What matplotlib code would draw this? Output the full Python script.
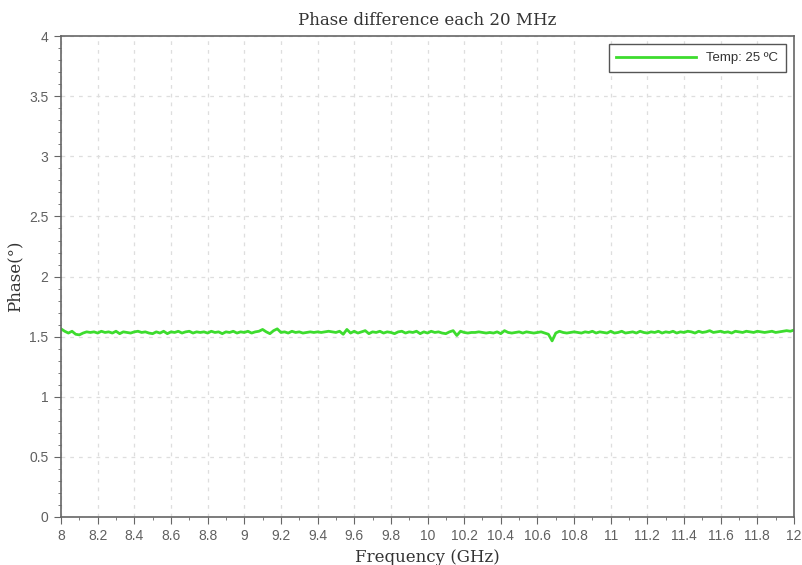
import numpy as np
import matplotlib.pyplot as plt

# frequency grid: 8 to 12 GHz, 20 MHz step
freq_start = 8.0
freq_step = 0.02

phase = [
    1.565, 1.545, 1.53, 1.545, 1.52, 1.515, 1.53, 1.54, 1.535, 1.54,
    1.53, 1.545, 1.535, 1.54, 1.53, 1.545, 1.525, 1.54, 1.535, 1.53,
    1.54, 1.545, 1.535, 1.54, 1.53, 1.525, 1.54, 1.53, 1.545, 1.525,
    1.54, 1.535, 1.545, 1.53, 1.54, 1.545, 1.53, 1.54, 1.535, 1.54,
    1.53, 1.545, 1.535, 1.54, 1.525, 1.54, 1.535, 1.545, 1.53, 1.54,
    1.535, 1.545, 1.53, 1.54, 1.545, 1.56, 1.54, 1.525, 1.55, 1.565,
    1.535, 1.54, 1.53, 1.545, 1.535, 1.54, 1.53, 1.535, 1.54, 1.535,
    1.54, 1.535, 1.54, 1.545, 1.54, 1.535, 1.545, 1.52, 1.56, 1.53,
    1.545, 1.53, 1.54, 1.55, 1.525, 1.54, 1.535, 1.545, 1.53, 1.54,
    1.535, 1.525, 1.54, 1.545, 1.53, 1.54, 1.535, 1.545, 1.525, 1.54,
    1.53, 1.545, 1.535, 1.54, 1.53, 1.525, 1.54, 1.55, 1.51, 1.545,
    1.535, 1.53, 1.535, 1.535, 1.54, 1.535, 1.53, 1.535, 1.53, 1.54,
    1.525, 1.55, 1.535, 1.53, 1.535, 1.54, 1.53, 1.54, 1.535, 1.53,
    1.535, 1.54, 1.53, 1.52, 1.465, 1.53, 1.545, 1.535, 1.53, 1.535,
    1.54, 1.535, 1.53, 1.54, 1.535, 1.545, 1.53, 1.54, 1.535, 1.53,
    1.545, 1.53, 1.535, 1.545, 1.53, 1.535, 1.54, 1.53, 1.545, 1.535,
    1.53, 1.54, 1.535, 1.545, 1.53, 1.54, 1.535, 1.545, 1.53, 1.54,
    1.535, 1.545, 1.54, 1.53, 1.545, 1.535, 1.54, 1.55, 1.535, 1.54,
    1.545, 1.535, 1.54, 1.53, 1.545, 1.54, 1.535, 1.545, 1.54, 1.535,
    1.545, 1.54, 1.535, 1.54, 1.545, 1.535, 1.54, 1.545, 1.55, 1.545,
    1.555,
]
freq = freq_start + freq_step * np.arange(len(phase))

x_ticks = np.round(np.arange(8, 12.01, 0.2), 1)
x_labels = ['8', '8.2', '8.4', '8.6', '8.8', '9', '9.2', '9.4', '9.6', '9.8', '10',
            '10.2', '10.4', '10.6', '10.8', '11', '11.2', '11.4', '11.6', '11.8', '12']
y_ticks = np.arange(0, 4.01, 0.5)
y_labels = ['0', '0.5', '1', '1.5', '2', '2.5', '3', '3.5', '4']

fig = plt.figure(figsize=(8.02, 5.65), dpi=100)
ax = fig.add_axes([0.0761, 0.085, 0.9139, 0.851])

ax.plot(freq, phase, color='#3ddc2e', linewidth=2.0, label='Temp: 25 ºC')

ax.set_xlim(8, 12)
ax.set_ylim(0, 4)
ax.set_xticks(x_ticks)
ax.set_xticklabels(x_labels)
ax.set_yticks(y_ticks)
ax.set_yticklabels(y_labels)
ax.set_xticks(np.arange(8.1, 12, 0.2), minor=True)
ax.set_yticks(np.arange(0, 4.01, 0.1), minor=True)

ax.grid(True, which='major', linestyle=(0, (3, 4)), color='#dedede', linewidth=0.9)
for s in ax.spines.values():
    s.set_color('#666666')
    s.set_linewidth(1.2)

ax.tick_params(which='major', direction='out', length=5, color='#666666',
               labelsize=10, labelcolor='#606060', pad=4)
ax.tick_params(which='minor', direction='out', length=2.5, color='#666666')
for lab in ax.get_xticklabels() + ax.get_yticklabels():
    lab.set_family('Liberation Sans')

ax.set_title('Phase difference each 20 MHz', family='DejaVu Serif', fontsize=12,
             color='#333333', pad=8)
ax.set_xlabel('Frequency (GHz)', family='DejaVu Serif', fontsize=12, color='#333333')
ax.set_ylabel('Phase(°)', family='DejaVu Serif', fontsize=12, color='#333333')

leg = ax.legend(loc='upper right', handlelength=6, fancybox=False, framealpha=1,
                edgecolor='#555555', prop={'family': 'Liberation Sans', 'size': 9.5},
                borderpad=0.6, borderaxespad=0.6)
leg.get_frame().set_linewidth(1.0)
for t in leg.get_texts():
    t.set_color('#333333')

fig.savefig('out.png', dpi=100)
